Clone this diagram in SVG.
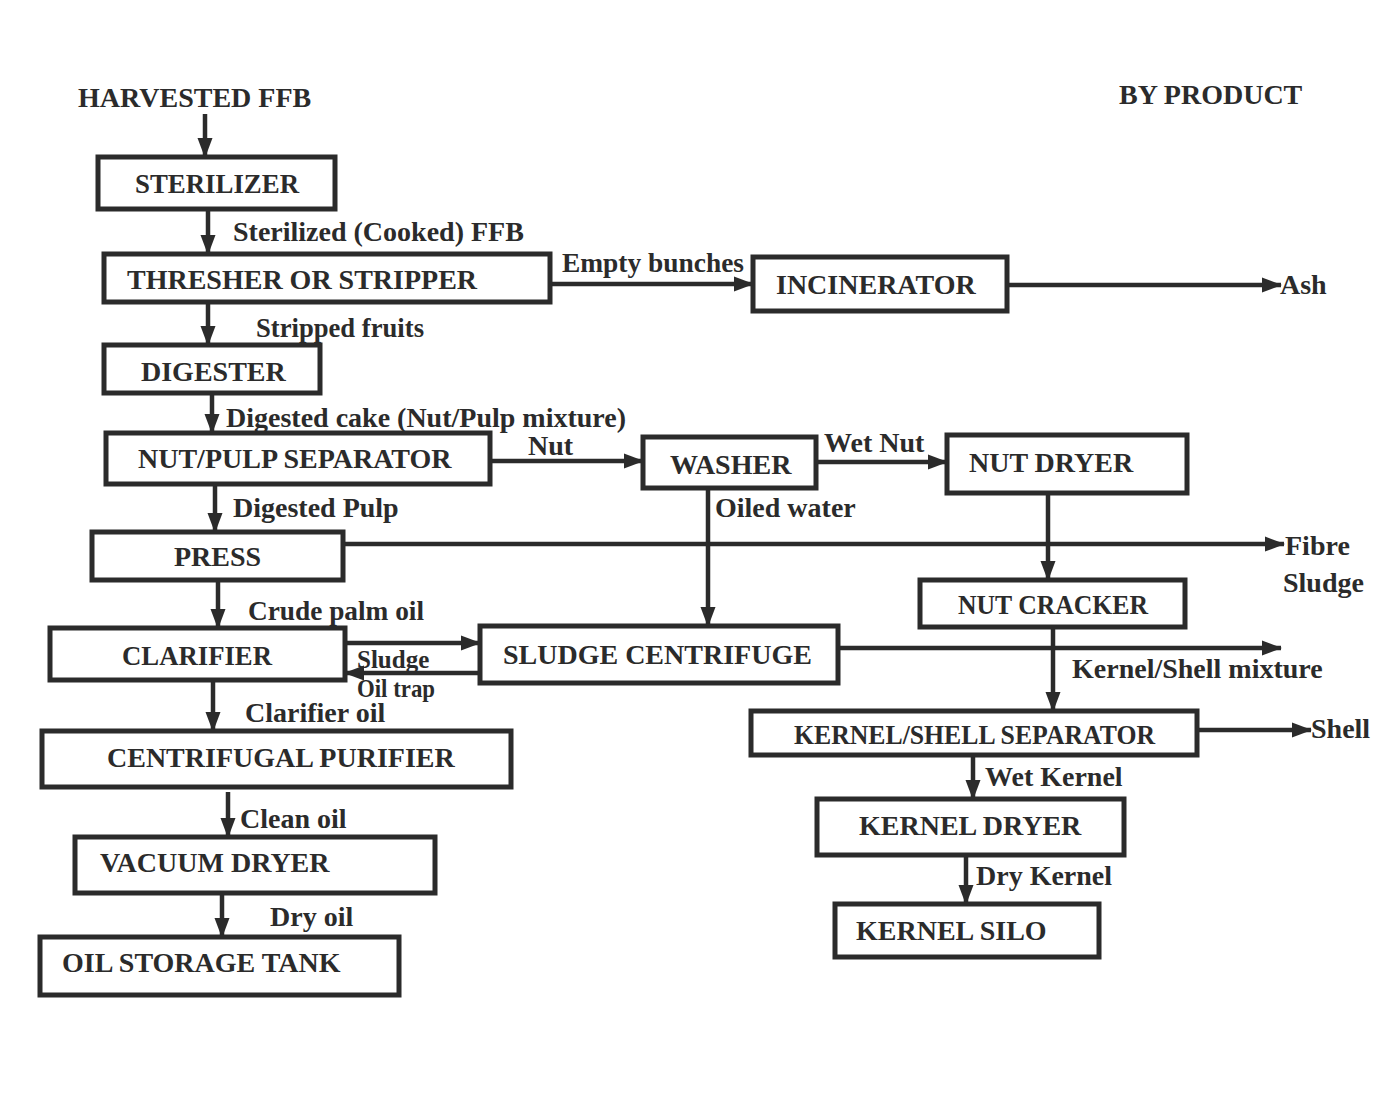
<svg xmlns="http://www.w3.org/2000/svg" width="1377" height="1110" viewBox="0 0 1377 1110">
<defs>
<marker id="ah" markerUnits="userSpaceOnUse" markerWidth="22" markerHeight="18" refX="19" refY="9" orient="auto">
<path d="M0,1.5 L20,9 L0,16.5 Z" fill="#2b2b2b"/>
</marker>
<style>
.box{fill:#fff;stroke:#2b2b2b;stroke-width:5}
.a{fill:none;stroke:#2b2b2b;stroke-width:4.5;marker-end:url(#ah)}
text{font-family:"Liberation Serif","Times New Roman",serif;font-weight:bold;font-size:28px;fill:#2b2b2b}
.s{font-size:25px}
</style>
</defs>
<rect width="1377" height="1110" fill="#fff"/>

<g id="connectors">
<line class="a" x1="205" y1="114" x2="205" y2="157"/>
<line class="a" x1="208" y1="209" x2="208" y2="254"/>
<line class="a" x1="550" y1="284" x2="753" y2="284"/>
<line class="a" x1="1007" y1="285" x2="1281" y2="285"/>
<line class="a" x1="208" y1="302" x2="208" y2="345"/>
<line class="a" x1="212" y1="393" x2="212" y2="433"/>
<line class="a" x1="490" y1="461" x2="643" y2="461"/>
<line class="a" x1="816" y1="462" x2="947" y2="462"/>
<line class="a" x1="215" y1="484" x2="215" y2="532"/>
<line class="a" x1="343" y1="544" x2="1284" y2="544"/>
<line class="a" x1="708" y1="488" x2="708" y2="626"/>
<line class="a" x1="1048" y1="493" x2="1048" y2="580"/>
<line class="a" x1="218" y1="580" x2="218" y2="628"/>
<line class="a" x1="345" y1="643" x2="480" y2="643"/>
<line class="a" x1="480" y1="673" x2="345" y2="673"/>
<line class="a" x1="838" y1="648" x2="1281" y2="648"/>
<line class="a" x1="1053" y1="627" x2="1053" y2="711"/>
<line class="a" x1="1197" y1="730" x2="1311" y2="730"/>
<line class="a" x1="213" y1="680" x2="213" y2="731"/>
<line class="a" x1="228" y1="792" x2="228" y2="837"/>
<line class="a" x1="222" y1="893" x2="222" y2="937"/>
<line class="a" x1="973" y1="755" x2="973" y2="799"/>
<line class="a" x1="966" y1="855" x2="966" y2="904"/>
</g>

<g id="labels">
<text x="78" y="107">HARVESTED FFB</text>
<text x="1119" y="104">BY PRODUCT</text>
<text x="233" y="241">Sterilized (Cooked) FFB</text>
<text x="562" y="272" textLength="182" lengthAdjust="spacingAndGlyphs">Empty bunches</text>
<text x="1280" y="294">Ash</text>
<text x="256" y="337" textLength="168" lengthAdjust="spacingAndGlyphs">Stripped fruits</text>
<text x="226" y="427">Digested cake (Nut/Pulp mixture)</text>
<text x="528" y="455">Nut</text>
<text x="824" y="452">Wet Nut</text>
<text x="233" y="517">Digested Pulp</text>
<text x="715" y="517">Oiled water</text>
<text x="1285" y="555">Fibre</text>
<text x="1283" y="592">Sludge</text>
<text x="248" y="620" textLength="176" lengthAdjust="spacingAndGlyphs">Crude palm oil</text>
<text class="s" x="357" y="668">Sludge</text>
<text class="s" x="357" y="697" textLength="78" lengthAdjust="spacingAndGlyphs">Oil trap</text>
<text x="1072" y="678">Kernel/Shell mixture</text>
<text x="245" y="722">Clarifier oil</text>
<text x="1311" y="738">Shell</text>
<text x="985" y="786">Wet Kernel</text>
<text x="240" y="828">Clean oil</text>
<text x="976" y="885">Dry Kernel</text>
<text x="270" y="926">Dry oil</text>
</g>

<g id="sterilizer"><rect class="box" x="98" y="157" width="237" height="52"/><text x="135" y="193" textLength="164" lengthAdjust="spacingAndGlyphs">STERILIZER</text></g>
<g id="thresher"><rect class="box" x="104" y="254" width="446" height="48"/><text x="127" y="289">THRESHER OR STRIPPER</text></g>
<g id="incinerator"><rect class="box" x="753" y="257" width="254" height="54"/><text x="776" y="294">INCINERATOR</text></g>
<g id="digester"><rect class="box" x="104" y="345" width="216" height="48"/><text x="141" y="381">DIGESTER</text></g>
<g id="nut-pulp-separator"><rect class="box" x="106" y="433" width="384" height="51"/><text x="138" y="468">NUT/PULP SEPARATOR</text></g>
<g id="washer"><rect class="box" x="643" y="437" width="173" height="51"/><text x="670" y="474">WASHER</text></g>
<g id="nut-dryer"><rect class="box" x="947" y="435" width="240" height="58"/><text x="969" y="472">NUT DRYER</text></g>
<g id="press"><rect class="box" x="92" y="532" width="251" height="48"/><text x="174" y="566">PRESS</text></g>
<g id="nut-cracker"><rect class="box" x="920" y="580" width="265" height="47"/><text x="958" y="614" textLength="190" lengthAdjust="spacingAndGlyphs">NUT CRACKER</text></g>
<g id="clarifier"><rect class="box" x="50" y="628" width="295" height="52"/><text x="122" y="665" textLength="150" lengthAdjust="spacingAndGlyphs">CLARIFIER</text></g>
<g id="sludge-centrifuge"><rect class="box" x="480" y="626" width="358" height="57"/><text x="503" y="664">SLUDGE CENTRIFUGE</text></g>
<g id="kernel-shell-separator"><rect class="box" x="751" y="711" width="446" height="44"/><text x="794" y="744" textLength="361" lengthAdjust="spacingAndGlyphs">KERNEL/SHELL SEPARATOR</text></g>
<g id="centrifugal-purifier"><rect class="box" x="42" y="731" width="469" height="56"/><text x="107" y="767">CENTRIFUGAL PURIFIER</text></g>
<g id="vacuum-dryer"><rect class="box" x="75" y="837" width="360" height="56"/><text x="100" y="872">VACUUM DRYER</text></g>
<g id="kernel-dryer"><rect class="box" x="817" y="799" width="307" height="56"/><text x="859" y="835">KERNEL DRYER</text></g>
<g id="oil-storage-tank"><rect class="box" x="40" y="937" width="359" height="58"/><text x="62" y="972">OIL STORAGE TANK</text></g>
<g id="kernel-silo"><rect class="box" x="835" y="904" width="264" height="53"/><text x="856" y="940">KERNEL SILO</text></g>
</svg>
